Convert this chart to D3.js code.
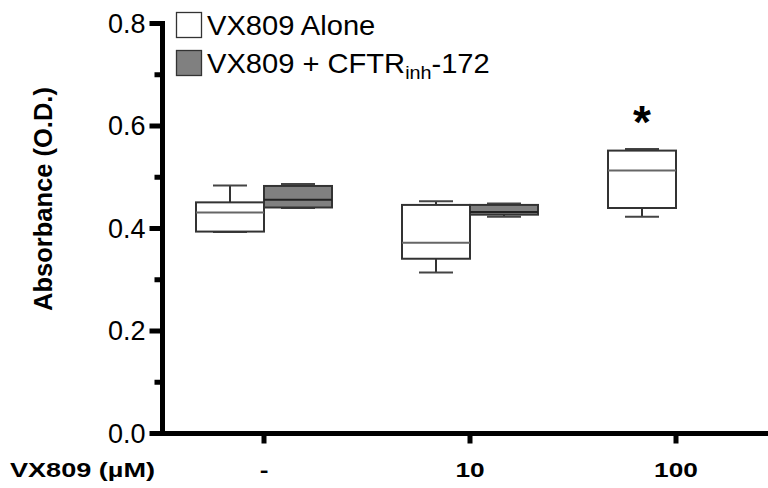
<!DOCTYPE html>
<html><head><meta charset="utf-8">
<script src="https://cdn.jsdelivr.net/npm/d3@7"></script>
<style>
html,body{margin:0;padding:0;background:#fff;}
svg{display:block;}
svg text{font-family:Arial,"Liberation Sans",Helvetica,sans-serif;}
</style></head>
<body>
<svg id="chart" width="768" height="488"></svg>
<script>
// ---- data ----
const categories = ["-", "10", "100"];
const seriesNames = ["VX809 Alone", "VX809 + CFTRinh-172"];
const aloneMin    = [0.393, 0.314, 0.423];
const aloneQ1     = [0.394, 0.341, 0.440];
const aloneMedian = [0.431, 0.372, 0.513];
const aloneQ3     = [0.451, 0.446, 0.552];
const aloneMax    = [0.484, 0.453, 0.555];
const inhMin      = [0.440, 0.423, null];
const inhQ1       = [0.441, 0.427, null];
const inhMedian   = [0.456, 0.432, null];
const inhQ3       = [0.483, 0.446, null];
const inhMax      = [0.487, 0.449, null];
const yMajorTicks = [0, 0.2, 0.4, 0.6, 0.8];
const yMinorTicks = [0.1, 0.3, 0.5, 0.7];
const significant = ["100"];

const svg = d3.select("#chart");
const y = d3.scaleLinear().domain([0, 0.8]).range([433.5, 23.5]);
const x = d3.scaleBand().domain(categories).range([161, 779]).padding(0);
const sub = d3.scaleBand().domain(["alone", "inh"]).range([-68, 68]).padding(0);

const boxes = [];
categories.forEach((c, i) => {
  boxes.push({cat: c, key: "alone", fill: "#ffffff", min: aloneMin[i], q1: aloneQ1[i], med: aloneMedian[i], q3: aloneQ3[i], max: aloneMax[i]});
  if (inhMedian[i] != null)
    boxes.push({cat: c, key: "inh", fill: "#808080", min: inhMin[i], q1: inhQ1[i], med: inhMedian[i], q3: inhQ3[i], max: inhMax[i]});
});

const g = svg.append("g");
const bw = sub.bandwidth();
const sw = "2px";
boxes.forEach(b => {
  const x0 = x(b.cat) + x.bandwidth() / 2 + sub(b.key);
  const cx = x0 + bw / 2;
  const bg = g.append("g");
  bg.append("line").attr("x1", cx).attr("x2", cx).attr("y1", y(b.max)).attr("y2", y(b.q3)).style("stroke", "#333").style("stroke-width", sw);
  bg.append("line").attr("x1", cx).attr("x2", cx).attr("y1", y(b.q1)).attr("y2", y(b.min)).style("stroke", "#333").style("stroke-width", sw);
  bg.append("line").attr("x1", cx - bw / 4).attr("x2", cx + bw / 4).attr("y1", y(b.max)).attr("y2", y(b.max)).style("stroke", "#444").style("stroke-width", sw);
  bg.append("line").attr("x1", cx - bw / 4).attr("x2", cx + bw / 4).attr("y1", y(b.min)).attr("y2", y(b.min)).style("stroke", "#444").style("stroke-width", sw);
  bg.append("rect").attr("x", x0).attr("width", bw).attr("y", y(b.q3)).attr("height", y(b.q1) - y(b.q3))
    .style("fill", b.fill).style("stroke", "#333").style("stroke-width", sw);
  bg.append("line").attr("x1", x0).attr("x2", x0 + bw).attr("y1", y(b.med)).attr("y2", y(b.med))
    .style("stroke", b.key === "alone" ? "#666" : "#222").style("stroke-width", sw);
});

// significance marker
significant.forEach(c => {
  const i = categories.indexOf(c);
  const cx = x(c) + x.bandwidth() / 2 + sub("alone") + bw / 2;
  svg.append("text").attr("x", cx).attr("y", y(aloneMax[i]) - 11).attr("text-anchor", "middle")
    .style("font-size", "46px").style("font-weight", "bold").style("fill", "#000").text("*");
});

// axes drawn as filled rects for solid thick lines
const T = 5;
const yAxisX = 162.5;
const axes = svg.append("g").style("fill", "#000");
axes.append("rect").attr("x", yAxisX - T / 2).attr("y", y(0.8) - T / 2).attr("width", T).attr("height", y(0) - y(0.8) + T);
axes.selectAll(".ymaj").data(yMajorTicks).join("rect").attr("class", "ymaj")
  .attr("x", yAxisX - 13).attr("y", d => y(d) - T / 2).attr("width", 13).attr("height", T);
axes.selectAll(".ymin").data(yMinorTicks).join("rect").attr("class", "ymin")
  .attr("x", yAxisX - 8).attr("y", d => y(d) - T / 2).attr("width", 8).attr("height", T);
axes.append("rect").attr("x", yAxisX - T / 2).attr("y", y(0) - T / 2).attr("width", 768 - yAxisX + T).attr("height", T);
axes.selectAll(".xt").data(categories).join("rect").attr("class", "xt")
  .attr("x", d => x(d) + x.bandwidth() / 2 - T / 2).attr("y", y(0)).attr("width", T).attr("height", 10);

// y tick labels
svg.append("g").selectAll("text").data(yMajorTicks).join("text")
  .attr("x", yAxisX - 17).attr("y", d => y(d)).attr("dy", "0.34em").attr("text-anchor", "end")
  .style("font-size", "27px").style("fill", "#000").text(d3.format(".1f"));

// x tick labels
svg.append("g").selectAll("text").data(categories).join("text")
  .attr("transform", d => `translate(${x(d) + x.bandwidth() / 2},477) scale(1.25,1)`)
  .attr("text-anchor", "middle")
  .style("font-size", "21px").style("font-weight", "bold").style("fill", "#000")
  .text(d => d);

svg.append("text").attr("x", 10).attr("y", 477)
  .attr("textLength", 145).attr("lengthAdjust", "spacingAndGlyphs")
  .style("font-size", "21px").style("font-weight", "bold").style("fill", "#000").text("VX809 (µM)");

// y title
svg.append("text").attr("transform", "translate(52,199) rotate(-90)").attr("text-anchor", "middle")
  .style("font-size", "25.5px").style("font-weight", "bold").style("fill", "#000").text("Absorbance (O.D.)");

// legend
const legend = svg.append("g");
const legendFills = ["#ffffff", "#808080"];
seriesNames.forEach((s, i) => {
  const ly = 12 + i * 38;
  legend.append("rect").attr("x", 176.5).attr("y", ly + 0.5).attr("width", 25).attr("height", 25)
    .style("fill", legendFills[i]).style("stroke", "#333").style("stroke-width", "1.3px");
  const t = legend.append("text").attr("transform", `translate(207,${ly + 22.5}) scale(1.04,1)`)
    .style("font-size", "28px").style("fill", "#000");
  if (s.includes("inh")) {
    const parts = s.split("inh");
    t.append("tspan").text(parts[0]);
    t.append("tspan").style("font-size", "19px").attr("dy", 6).text("inh");
    t.append("tspan").attr("dy", -6).text(parts[1]);
  } else {
    t.text(s);
  }
});
</script>
</body></html>
